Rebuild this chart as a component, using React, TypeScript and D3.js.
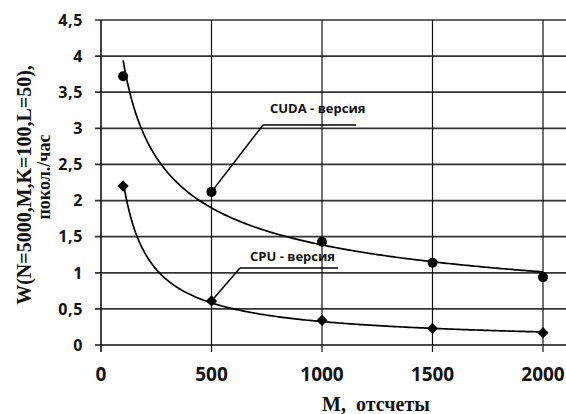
import React from "react";
import * as d3 from "d3";

const mValues = [100, 500, 1000, 1500, 2000];
const cudaValues = [3.72, 2.12, 1.43, 1.14, 0.94];
const cpuValues = [2.2, 0.61, 0.34, 0.23, 0.17];
const xTicks = [0, 500, 1000, 1500, 2000];
const yTicks = [0, 0.5, 1, 1.5, 2, 2.5, 3, 3.5, 4, 4.5];
const yLabelLines = ["W(N=5000,M,K=100,L=50),", "покол./час"];
const xLabel = "M,  отсчеты";
const cudaLabel = "CUDA - версия";
const cpuLabel = "CPU - версия";

const W = 566;
const H = 414;
const left = 101;
const right = 566;
const top = 20;
const bottom = 345;

// Excel-style power trendline fit: y = a * x^b (least squares in log-log)
function powerFit(xs: number[], ys: number[]) {
  const lx = xs.map(Math.log);
  const ly = ys.map(Math.log);
  const mx = d3.mean(lx) as number;
  const my = d3.mean(ly) as number;
  let sxy = 0, sxx = 0;
  lx.forEach((v, i) => {
    sxy += (v - mx) * (ly[i] - my);
    sxx += (v - mx) * (v - mx);
  });
  const b = sxy / sxx;
  const a = Math.exp(my - b * mx);
  return (x: number) => a * Math.pow(x, b);
}

export default function App() {
  const x = d3.scaleLinear().domain([0, 2000]).range([left, 543]);
  const y = d3.scaleLinear().domain([0, 4.5]).range([bottom, top]);
  const fmt = (v: number) => String(v).replace(".", ",");

  const xMin = d3.min(mValues) as number;
  const xMax = d3.max(mValues) as number;
  const samples = d3.range(0, 201).map((i) => xMin + ((xMax - xMin) * i) / 200);
  const line = d3
    .line<[number, number]>()
    .x((d) => x(d[0]))
    .y((d) => y(d[1]))
    .curve(d3.curveLinear);
  const cudaFit = powerFit(mValues, cudaValues);
  const cpuFit = powerFit(mValues, cpuValues);
  const cudaPath = line(samples.map((s) => [s, cudaFit(s)] as [number, number])) || "";
  const cpuPath = line(samples.map((s) => [s, cpuFit(s)] as [number, number])) || "";
  const diamond = d3.symbol().type(d3.symbolDiamond2).size(80)() || "";

  const tickFont = "'Open Sans', 'DejaVu Sans', sans-serif";
  const serif = "'Liberation Serif', 'DejaVu Serif', serif";

  return (
    <svg width={W} height={H} style={{ position: "absolute", left: 0, top: 0, background: "#fff" }}>
      {/* horizontal gridlines + y ticks */}
      {yTicks.map((t) => (
        <g key={"h" + t}>
          <line x1={95} x2={right} y1={y(t)} y2={y(t)} stroke={t === 0 ? "#111" : "#333"} strokeWidth={t === 0 ? 1.6 : 1.7} />
          <text
            x={83}
            y={y(t)}
            dy="0.36em"
            textAnchor="end"
            fontFamily={tickFont}
            fontWeight={700}
            fontSize={16}
            letterSpacing={0.6}
            fill="#111"
          >
            {fmt(t)}
          </text>
        </g>
      ))}
      {/* vertical gridlines + x ticks */}
      {xTicks.map((t) => (
        <g key={"v" + t}>
          <line x1={x(t)} x2={x(t)} y1={top} y2={bottom + 7} stroke="#111" strokeWidth={t === 0 ? 1.6 : 1.2} />
          <text
            x={x(t)}
            y={381}
            textAnchor="middle"
            fontFamily={tickFont}
            fontWeight={700}
            fontSize={19}
            fill="#111"
          >
            {t}
          </text>
        </g>
      ))}

      {/* trend lines */}
      <path d={cudaPath} fill="none" stroke="#000" strokeWidth={1.7} />
      <path d={cpuPath} fill="none" stroke="#000" strokeWidth={1.7} />

      {/* markers */}
      {mValues.map((m, i) => (
        <circle key={"c" + m} cx={x(m)} cy={y(cudaValues[i])} r={5} fill="#000" />
      ))}
      {mValues.map((m, i) => (
        <path key={"d" + m} d={diamond} transform={`translate(${x(m)},${y(cpuValues[i])})`} fill="#000" />
      ))}

      {/* annotations */}
      <line x1={263} x2={356} y1={125} y2={125} stroke="#000" strokeWidth={1.5} />
      <line x1={263} x2={x(mValues[1])} y1={125} y2={y(cudaValues[1])} stroke="#000" strokeWidth={1.5} />
      <text x={270} y={113} fontFamily={tickFont} fontWeight={700} fontSize={13} fill="#111">
        {cudaLabel}
      </text>
      <line x1={240} x2={338} y1={268} y2={268} stroke="#000" strokeWidth={1.5} />
      <line x1={240} x2={x(mValues[1])} y1={268} y2={y(cpuValues[1])} stroke="#000" strokeWidth={1.5} />
      <text x={250} y={261} fontFamily={tickFont} fontWeight={700} fontSize={13} fill="#111">
        {cpuLabel}
      </text>

      {/* axis titles */}
      <text
        transform="translate(31,185) rotate(-90)"
        textAnchor="middle"
        fontFamily={serif}
        fontWeight={700}
        fontSize={20}
        fill="#111"
      >
        {yLabelLines[0]}
      </text>
      <text
        transform="translate(50,177) rotate(-90)"
        textAnchor="middle"
        fontFamily={serif}
        fontWeight={700}
        fontSize={18}
        fill="#111"
      >
        {yLabelLines[1]}
      </text>
      <text
        x={376}
        y={411}
        textAnchor="middle"
        fontFamily={serif}
        fontWeight={700}
        fontSize={20}
        fill="#111"
        style={{ whiteSpace: "pre" }}
      >
        {xLabel}
      </text>
    </svg>
  );
}
